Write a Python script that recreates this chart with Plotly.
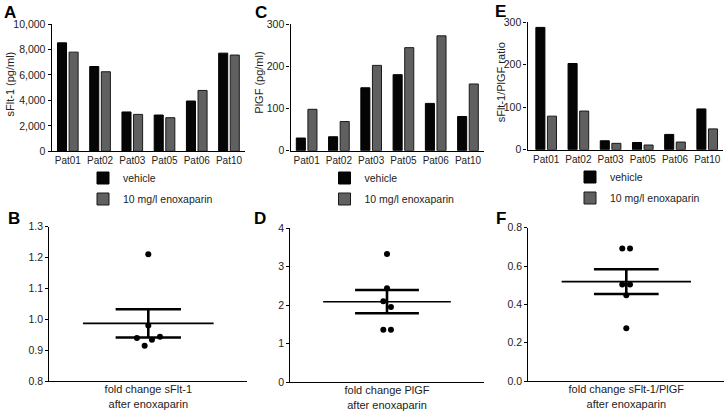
import plotly.graph_objects as go
import numpy as np

W, H = 726, 417

# ---------------- data ----------------
patients = ["Pat01", "Pat02", "Pat03", "Pat05", "Pat06", "Pat10"]
sflt_vehicle = [8520, 6660, 3090, 2850, 3950, 7710]
sflt_enox = [7790, 6250, 2900, 2640, 4780, 7560]
plgf_vehicle = [30, 33, 149, 180, 112, 81]
plgf_enox = [98, 69, 202, 244, 272, 158]
ratio_vehicle = [288, 203, 21, 17, 36, 96]
ratio_enox = [79, 91, 15, 11, 18, 49]

fc_sflt = [1.211, 0.980, 0.939, 0.934, 0.943, 0.914]
fc_plgf = [3.33, 2.44, 2.10, 1.95, 1.36, 1.36]
fc_ratio = [0.692, 0.692, 0.503, 0.503, 0.447, 0.275]

series_names = ["vehicle", "10 mg/l enoxaparin"]
y_titles = ["sFlt-1 (pg/ml)", "PlGF (pg/ml)", "sFlt-1/PlGF ratio"]
fc_labels = ["fold change sFlt-1<br>after enoxaparin",
             "fold change PlGF<br>after enoxaparin",
             "fold change sFlt-1/PlGF<br>after enoxaparin"]

# ---------------- style ----------------
FONT = "Liberation Sans, Arial, Helvetica, sans-serif"
TXT = "#222222"
VEH_COL = "#050505"
ENOX_COL = "#606060"
jit_b = [0, 0, -0.115, 0.037, 0.118, -0.037]
jit_d = [0, 0, -0.038, 0.041, -0.038, 0.041]
jit_f = [-0.041, 0.038, -0.041, 0.038, 0, 0]
MEAN_HW = 0.66
SEM_HW = 0.33


def dx(a, b):
    return [a / W, b / W]


def dy(top, bottom):
    return [1 - bottom / H, 1 - top / H]


fig = go.Figure()

# ---------------- bar panels ----------------
bar_sets = [
    (sflt_vehicle, sflt_enox, "x", "y", "legend"),
    (plgf_vehicle, plgf_enox, "x2", "y2", "legend2"),
    (ratio_vehicle, ratio_enox, "x3", "y3", "legend3"),
]
for veh, enox, xa, ya, lg in bar_sets:
    fig.add_trace(go.Bar(x=patients, y=veh, name=series_names[0], xaxis=xa, yaxis=ya,
                         marker=dict(color=VEH_COL, line=dict(color="#000000", width=1)),
                         legend=lg, legendgroup=lg + "a", offsetgroup="a"))
    fig.add_trace(go.Bar(x=patients, y=enox, name=series_names[1], xaxis=xa, yaxis=ya,
                         marker=dict(color=ENOX_COL, line=dict(color="#1a1a1a", width=1)),
                         legend=lg, legendgroup=lg + "b", offsetgroup="b"))

# ---------------- scatter panels ----------------
def sem(v):
    v = np.asarray(v, dtype=float)
    return v.mean(), v.std(ddof=1) / np.sqrt(len(v))


scatter_sets = [
    (fc_sflt, jit_b, "x4", "y4"),
    (fc_plgf, jit_d, "x5", "y5"),
    (fc_ratio, jit_f, "x6", "y6"),
]
for vals, jit, xa, ya in scatter_sets:
    m, s = sem(vals)
    fig.add_trace(go.Scatter(x=[-MEAN_HW, MEAN_HW], y=[m, m], mode="lines",
                             line=dict(color="black", width=1.6), xaxis=xa, yaxis=ya,
                             showlegend=False, hoverinfo="skip"))
    fig.add_trace(go.Scatter(x=[-SEM_HW, SEM_HW, None, -SEM_HW, SEM_HW, None, 0, 0],
                             y=[m + s, m + s, None, m - s, m - s, None, m - s, m + s],
                             mode="lines", line=dict(color="black", width=2.6),
                             xaxis=xa, yaxis=ya, showlegend=False, hoverinfo="skip"))
    fig.add_trace(go.Scatter(x=jit, y=vals, mode="markers",
                             marker=dict(color="black", size=6), xaxis=xa, yaxis=ya,
                             showlegend=False))

# ---------------- axes ----------------
axis_common = dict(showline=True, linecolor="black", linewidth=1.3, showgrid=False,
                   zeroline=False, ticks="outside", tickcolor="black", ticklen=3,
                   tickwidth=1.2, automargin=False,
                   tickfont=dict(family=FONT, size=10.5, color=TXT))

top_x = [dx(51.7, 245.1), dx(290.5, 484.1), dx(527.5, 723.3)]
top_xrange = [[-0.5, 5.5], [-0.5, 5.5], [-0.58, 5.5]]
top_y = [dy(24, 151.3), dy(24, 150.7), dy(22.3, 149.7)]
top_yr = [[0, 10000], [0, 300], [0, 300]]
top_dt = [2000, 100, 100]
title_pos = [(9.5, 84), (258.7, 83), (501.3, 82)]

bot_x = [dx(49.3, 247.3), dx(290.3, 483.7), dx(528.3, 724.3)]
bot_y = [dy(226.7, 381), dy(228.3, 382), dy(227.7, 381)]
bot_yr = [[0.8, 1.3], [0, 4], [0, 0.8]]
bot_dt = [0.1, 1, 0.2]
bot_fmt = [".1f", "d", ".1f"]

layout = {}
for i in range(3):
    n = "" if i == 0 else str(i + 1)
    layout["xaxis" + n] = dict(axis_common, domain=top_x[i], range=top_xrange[i],
                               anchor="y" + n, type="category", ticks="",
                               tickfont=dict(family=FONT, size=10, color=TXT), fixedrange=True)
    layout["yaxis" + n] = dict(axis_common, domain=top_y[i], range=top_yr[i],
                               anchor="x" + n, dtick=top_dt[i], tickformat=",d")
    k = str(i + 4)
    layout["xaxis" + k] = dict(axis_common, domain=bot_x[i], range=[-1, 1], anchor="y" + k,
                               tickvals=[0], ticktext=[fc_labels[i]], ticks="",
                               ticklabelstandoff=-2,
                               tickfont=dict(family=FONT, size=11, color=TXT))
    layout["yaxis" + k] = dict(axis_common, domain=bot_y[i], range=bot_yr[i], anchor="x" + k,
                               dtick=bot_dt[i], tickformat=bot_fmt[i])

# ---------------- legends ----------------
leg_common = dict(font=dict(family=FONT, size=10.5, color=TXT), bgcolor="rgba(0,0,0,0)",
                  xanchor="left", yanchor="top", tracegroupgap=2, orientation="v")
layout["legend"] = dict(leg_common, x=83 / W, y=1 - 163.5 / H)
layout["legend2"] = dict(leg_common, x=324.5 / W, y=1 - 163.5 / H)
layout["legend3"] = dict(leg_common, x=570 / W, y=1 - 162.5 / H)

# ---------------- text annotations ----------------
anns = []
letters = [("A", 2.7, 12), ("C", 253.7, 12.5), ("E", 493.5, 11.5),
           ("B", 7.3, 219), ("D", 253, 219), ("F", 494.7, 218.5)]
for t, x, y in letters:
    anns.append(dict(text="<b>%s</b>" % t, x=x / W, y=1 - y / H, xref="paper", yref="paper",
                     xanchor="left", yanchor="middle", showarrow=False, borderpad=0,
                     font=dict(family=FONT, size=17, color="black")))
for t, (x, y) in zip(y_titles, title_pos):
    anns.append(dict(text=t, x=x / W, y=1 - y / H, xref="paper", yref="paper",
                     xanchor="center", yanchor="middle", textangle=-90, showarrow=False,
                     font=dict(family=FONT, size=11, color=TXT)))

fig.update_layout(**layout)
fig.update_layout(width=W, height=H,
                  margin=dict(l=0, r=0, t=0, b=0, pad=0, autoexpand=False),
                  paper_bgcolor="white", plot_bgcolor="white",
                  barmode="group", bargap=0.28, bargroupgap=0.22,
                  annotations=anns, font=dict(family=FONT, color=TXT))

fig.write_html("out.html", config={"displayModeBar": False},
               post_script="document.body.style.margin='0px';document.body.style.padding='0px';")
